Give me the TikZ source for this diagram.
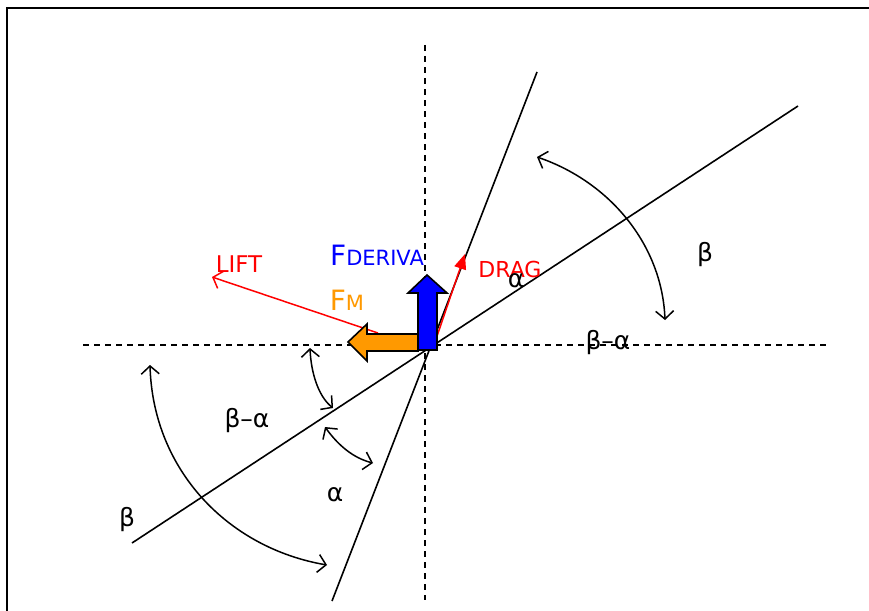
\documentclass[tikz,border=0pt]{standalone}
\usepackage{fontspec}
\setmainfont{DejaVu Sans}
\usetikzlibrary{arrows.meta}
\definecolor{fmorange}{RGB}{255,153,0}
\tikzset{
  axis/.style={dash pattern=on 6pt off 5pt, line width=1.5pt},
  chord/.style={line width=1.6pt},
  angarrow/.style={line width=1.5pt, {Straight Barb[length=8pt,width=18pt]}-{Straight Barb[length=8pt,width=18pt]}},
  lbl/.style={inner sep=0pt, font=\fontsize{25}{29}\selectfont}
}
\begin{document}
\begin{tikzpicture}[x=1pt, y=-1pt]
    \useasboundingbox (0,0) rectangle (869,610);
    \clip (0,0) rectangle (869,610);
    \draw[line width=1.6pt] (7,8) rectangle (890,630);
    % axes and the two lines
    \coordinate (O) at (427,347);
    \draw[axis] (83,345) -- (830,345);
    \draw[axis] (425,45) -- (425,600);
    \coordinate (steepTop) at (537,72);
    \coordinate (steepBot) at (332,601);
    \coordinate (flatTop) at (798,106);
    \coordinate (flatBot) at (132,543);
    \draw[chord] (steepTop) -- (steepBot);
    \draw[chord] (flatTop) -- (flatBot);
    % angle arcs
    \draw[angarrow] (537,157) .. controls (610,182) and (662,245) .. (665,320);
    \draw[angarrow] (150,365) .. controls (153,470) and (228,548) .. (327,565);
    \draw[angarrow] (310,348) .. controls (311,372) and (318,396) .. (333,408);
    \draw[angarrow] (325,427) .. controls (338,445) and (353,458) .. (373,463);
    % forces
    \coordinate (liftTip) at (212,277);
    \coordinate (dragTip) at (465,254);
    \draw[red, line width=1.5pt, -{Straight Barb[length=8pt,width=18pt]}] (378,333) -- (liftTip);
    \draw[red, line width=1.5pt, -{Triangle[length=15pt,width=12pt]}] (434,345) -- (dragTip);
    \draw[fill=fmorange, line width=1.6pt] (418,334) -- (367,334) -- (367,324) -- (348,342)
        -- (367,361) -- (367,351) -- (418,351) -- cycle;
    \draw[fill=blue, line width=1.6pt] (418,350) -- (418,293) -- (408,293) -- (427,275)
        -- (447,293) -- (437,293) -- (437,350) -- cycle;
    % labels
    \node[lbl, text=blue] (deriva) at (377,255) {\fontsize{28}{31}\selectfont F\fontsize{21}{25}\selectfont DERIVA};
    \node[lbl, text=fmorange] (fm) at (347,300) {\fontsize{28}{31}\selectfont F\fontsize{21}{25}\selectfont M};
    \node[lbl, text=red, font=\fontsize{23}{27}\selectfont] (lift) at (239,264) {LIFT};
    \node[lbl, text=red, font=\fontsize{22}{26}\selectfont] (drag) at (510,269) {DRAG};
    \node[lbl] (alphaUp) at (516,281) {α};
    \node[lbl] (betaRight) at (705,255) {β};
    \node[lbl] (diffRight) at (608,343) {β–α};
    \node[lbl] (diffLeft) at (247,421) {β–α};
    \node[lbl] (betaLeft) at (127,520) {β};
    \node[lbl] (alphaLow) at (335,495) {α};
\end{tikzpicture}
\end{document}
